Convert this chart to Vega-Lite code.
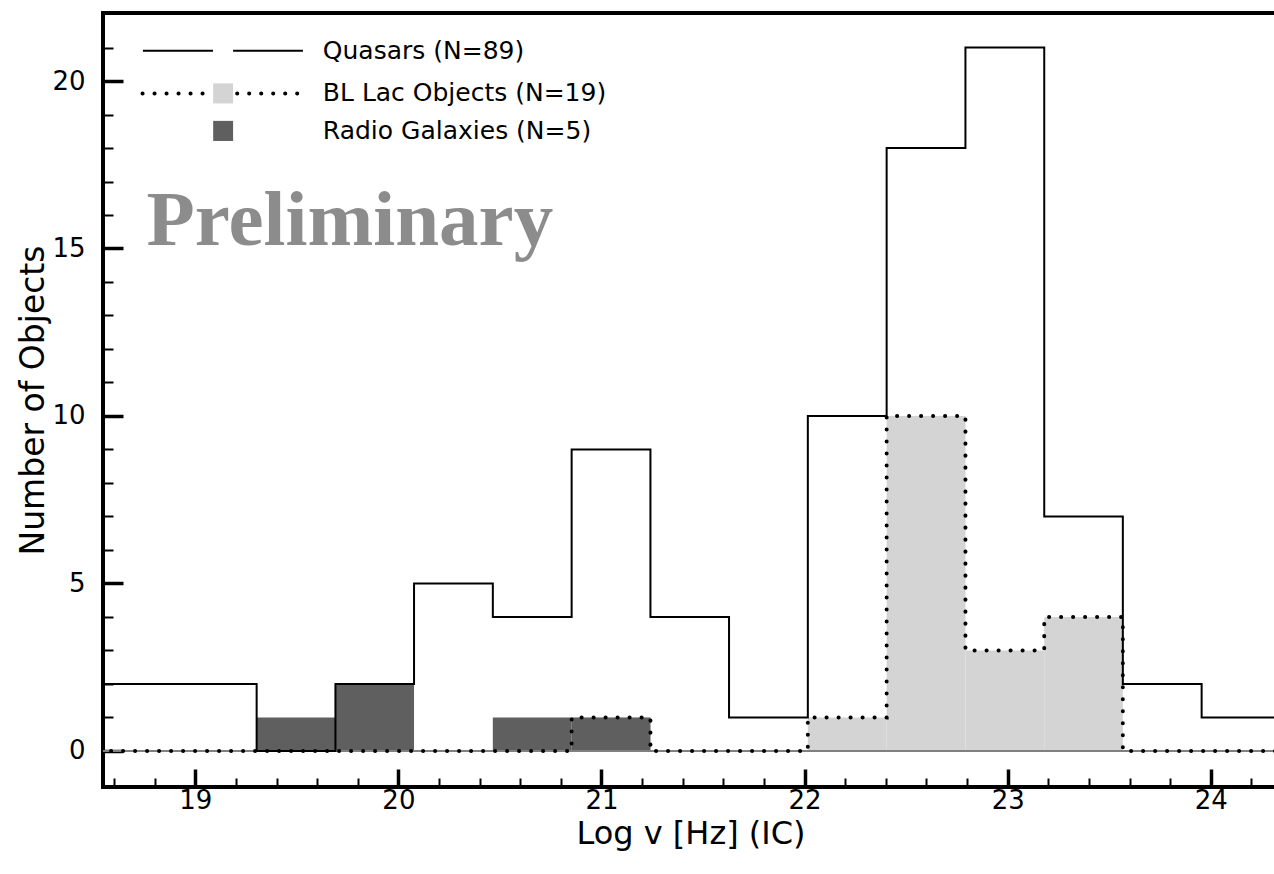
{
  "$schema": "https://vega.github.io/schema/vega-lite/v6.json",
  "width": 1175,
  "height": 774,
  "autosize": {"type": "none"},
  "padding": {"left": 103, "top": 13, "right": 0, "bottom": 87},
  "background": "white",
  "config": {
    "view": {"stroke": "black", "strokeWidth": 4},
    "axis": {"grid": false, "domain": false, "tickColor": "black", "labelColor": "black", "titleColor": "black", "labelFont": "DejaVu Sans", "titleFont": "DejaVu Sans", "titleFontWeight": "normal", "labelOverlap": false, "labelFlush": false, "labelBound": false}
  },
  "datasets": {
    "bins": [
      {"lo": 18.526, "hi": 18.914, "quasars": 2, "bllac": 0, "radio": 0},
      {"lo": 18.914, "hi": 19.302, "quasars": 2, "bllac": 0, "radio": 0},
      {"lo": 19.302, "hi": 19.690, "quasars": 0, "bllac": 0, "radio": 1},
      {"lo": 19.690, "hi": 20.077, "quasars": 2, "bllac": 0, "radio": 2},
      {"lo": 20.077, "hi": 20.465, "quasars": 5, "bllac": 0, "radio": 0},
      {"lo": 20.465, "hi": 20.853, "quasars": 4, "bllac": 0, "radio": 1},
      {"lo": 20.853, "hi": 21.241, "quasars": 9, "bllac": 1, "radio": 1},
      {"lo": 21.241, "hi": 21.628, "quasars": 4, "bllac": 0, "radio": 0},
      {"lo": 21.628, "hi": 22.016, "quasars": 1, "bllac": 0, "radio": 0},
      {"lo": 22.016, "hi": 22.404, "quasars": 10, "bllac": 1, "radio": 0},
      {"lo": 22.404, "hi": 22.792, "quasars": 18, "bllac": 10, "radio": 0},
      {"lo": 22.792, "hi": 23.180, "quasars": 21, "bllac": 3, "radio": 0},
      {"lo": 23.180, "hi": 23.567, "quasars": 7, "bllac": 4, "radio": 0},
      {"lo": 23.567, "hi": 23.955, "quasars": 2, "bllac": 0, "radio": 0},
      {"lo": 23.955, "hi": 24.343, "quasars": 1, "bllac": 0, "radio": 0}
    ],
    "one": [{}]
  },
  "resolve": {"axis": {"x": "independent", "y": "independent"}},
  "layer": [
    {
      "data": {"name": "bins"},
      "transform": [{"filter": "datum.bllac > 0"}],
      "mark": {"type": "rect", "color": "#d4d4d4", "clip": true},
      "encoding": {
        "x": {"field": "lo", "type": "quantitative", "scale": {"domain": [18.5455, 24.331], "nice": false, "zero": false},
          "axis": {"orient": "bottom", "title": "Log v [Hz] (IC)", "titleFontSize": 32, "titlePadding": 5, "labelFontSize": 26, "labelPadding": 18,
            "values": [19, 20, 21, 22, 23, 24], "tickSize": -18, "tickWidth": 3.5}},
        "x2": {"field": "hi"},
        "y": {"field": "bllac", "type": "quantitative", "scale": {"domain": [-1.075, 22.03], "nice": false, "zero": false},
          "axis": {"orient": "left", "title": "Number of Objects", "titleFontSize": 33, "titlePadding": 1, "labelFontSize": 26, "labelPadding": 38,
            "values": [0, 5, 10, 15, 20], "tickSize": -20, "tickWidth": 3.5}},
        "y2": {"datum": 0}
      }
    },
    {
      "data": {"name": "bins"},
      "transform": [{"filter": "datum.radio > 0"}],
      "mark": {"type": "rect", "color": "#5f5f5f", "clip": true},
      "encoding": {
        "x": {"field": "lo", "type": "quantitative",
          "axis": {"orient": "bottom", "title": null, "labels": false,
            "values": [18.6, 18.8, 19.2, 19.4, 19.6, 19.8, 20.2, 20.4, 20.6, 20.8, 21.2, 21.4, 21.6, 21.8, 22.2, 22.4, 22.6, 22.8, 23.2, 23.4, 23.6, 23.8, 24.2],
            "tickSize": -9, "tickWidth": 2}},
        "x2": {"field": "hi"},
        "y": {"field": "radio", "type": "quantitative",
          "axis": {"orient": "left", "title": null, "labels": false,
            "values": [1, 2, 3, 4, 6, 7, 8, 9, 11, 12, 13, 14, 16, 17, 18, 19, 21],
            "tickSize": -10, "tickWidth": 2}},
        "y2": {"datum": 0}
      }
    },
    {
      "data": {"name": "one"},
      "mark": {"type": "rule", "color": "#808080", "strokeWidth": 2, "clip": true},
      "encoding": {"x": {"datum": 18.5, "type": "quantitative", "axis": null}, "x2": {"datum": 24.4}, "y": {"datum": 0, "type": "quantitative", "axis": null}}
    },
    {
      "data": {"name": "bins"},
      "transform": [{"fold": ["lo", "hi"], "as": ["end", "x"]}],
      "mark": {"type": "line", "color": "black", "strokeWidth": 2, "clip": true, "interpolate": "linear"},
      "encoding": {
        "x": {"field": "x", "type": "quantitative", "axis": null},
        "y": {"field": "quasars", "type": "quantitative", "axis": null},
        "order": [{"field": "x", "type": "quantitative"}, {"field": "end", "type": "nominal"}]
      }
    },
    {
      "data": {"name": "bins"},
      "transform": [{"fold": ["lo", "hi"], "as": ["end", "x"]}],
      "mark": {"type": "line", "color": "black", "strokeWidth": 4, "strokeDash": [0.1, 11.9], "strokeCap": "round", "clip": true, "interpolate": "linear"},
      "encoding": {
        "x": {"field": "x", "type": "quantitative", "axis": null},
        "y": {"field": "bllac", "type": "quantitative", "axis": null},
        "order": [{"field": "x", "type": "quantitative"}, {"field": "end", "type": "nominal"}]
      }
    },
    {
      "data": {"name": "one"},
      "mark": {"type": "rule", "color": "black", "strokeWidth": 2},
      "encoding": {"x": {"datum": 18.742, "type": "quantitative", "axis": null}, "x2": {"datum": 19.087}, "y": {"datum": 20.9, "type": "quantitative", "axis": null}}
    },
    {
      "data": {"name": "one"},
      "mark": {"type": "rule", "color": "black", "strokeWidth": 2},
      "encoding": {"x": {"datum": 19.186, "type": "quantitative", "axis": null}, "x2": {"datum": 19.53}, "y": {"datum": 20.9, "type": "quantitative", "axis": null}}
    },
    {
      "data": {"name": "one"},
      "mark": {"type": "rule", "color": "black", "strokeWidth": 4, "strokeDash": [0.1, 11.9], "strokeCap": "round"},
      "encoding": {"x": {"datum": 18.74, "type": "quantitative", "axis": null}, "x2": {"datum": 19.06}, "y": {"datum": 19.63, "type": "quantitative", "axis": null}}
    },
    {
      "data": {"name": "one"},
      "mark": {"type": "rule", "color": "black", "strokeWidth": 4, "strokeDash": [0.1, 11.9], "strokeCap": "round"},
      "encoding": {"x": {"datum": 19.206, "type": "quantitative", "axis": null}, "x2": {"datum": 19.53}, "y": {"datum": 19.63, "type": "quantitative", "axis": null}}
    },
    {
      "data": {"name": "one"},
      "mark": {"type": "rect", "color": "#d4d4d4"},
      "encoding": {"x": {"datum": 19.088, "type": "quantitative", "axis": null}, "x2": {"datum": 19.186}, "y": {"datum": 19.93, "type": "quantitative", "axis": null}, "y2": {"datum": 19.33}}
    },
    {
      "data": {"name": "one"},
      "mark": {"type": "rect", "color": "#5f5f5f"},
      "encoding": {"x": {"datum": 19.088, "type": "quantitative", "axis": null}, "x2": {"datum": 19.186}, "y": {"datum": 18.81, "type": "quantitative", "axis": null}, "y2": {"datum": 18.21}}
    },
    {
      "data": {"name": "one"},
      "mark": {"type": "text", "font": "DejaVu Sans", "fontSize": 25, "align": "left", "baseline": "middle", "color": "black"},
      "encoding": {"x": {"datum": 19.628, "type": "quantitative", "axis": null}, "y": {"datum": 20.9, "type": "quantitative", "axis": null}, "text": {"value": "Quasars (N=89)"}}
    },
    {
      "data": {"name": "one"},
      "mark": {"type": "text", "font": "DejaVu Sans", "fontSize": 25, "align": "left", "baseline": "middle", "color": "black"},
      "encoding": {"x": {"datum": 19.628, "type": "quantitative", "axis": null}, "y": {"datum": 19.63, "type": "quantitative", "axis": null}, "text": {"value": "BL Lac Objects (N=19)"}}
    },
    {
      "data": {"name": "one"},
      "mark": {"type": "text", "font": "DejaVu Sans", "fontSize": 25, "align": "left", "baseline": "middle", "color": "black"},
      "encoding": {"x": {"datum": 19.628, "type": "quantitative", "axis": null}, "y": {"datum": 18.51, "type": "quantitative", "axis": null}, "text": {"value": "Radio Galaxies (N=5)"}}
    },
    {
      "data": {"name": "one"},
      "mark": {"type": "text", "font": "Liberation Serif", "fontWeight": "bold", "fontSize": 79, "align": "left", "baseline": "alphabetic", "color": "#8c8c8c"},
      "encoding": {"x": {"datum": 18.76, "type": "quantitative", "axis": null}, "y": {"datum": 15.1, "type": "quantitative", "axis": null}, "text": {"value": "Preliminary"}}
    }
  ]
}
